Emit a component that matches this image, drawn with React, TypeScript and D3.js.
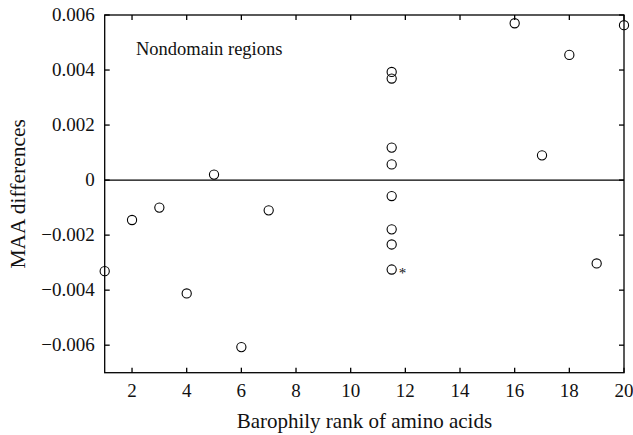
import React from "react";
import * as d3 from "d3";

const ranks = [1, 2, 3, 4, 5, 6, 7, 11.5, 11.5, 11.5, 11.5, 11.5, 11.5, 11.5, 11.5, 16, 17, 18, 19, 20];
const maaDiffs = [-0.00331, -0.00145, -0.001, -0.00412, 0.0002, -0.00607, -0.0011, 0.00393, 0.00369, 0.00118, 0.00057, -0.00058, -0.00179, -0.00234, -0.00325, 0.0057, 0.0009, 0.00455, -0.00303, 0.00563];
const xTicks = [2, 4, 6, 8, 10, 12, 14, 16, 18, 20];
const yTicks = [-0.006, -0.004, -0.002, 0, 0.002, 0.004, 0.006];
const annotation = "Nondomain regions";
const starPoint = { rank: 11.5, value: -0.00325 };

const W = 633, H = 435;
const margin = { left: 104.7, right: 9, top: 15, bottom: 62.3 };
const font = "'Liberation Serif', 'DejaVu Serif', serif";

export default function App() {
  const x = d3.scaleLinear().domain([1, 20]).range([margin.left, W - margin.right]);
  const y = d3.scaleLinear().domain([-0.007, 0.006]).range([H - margin.bottom, margin.top]);
  const [x0, x1] = x.range();
  const [y0, y1] = y.range();
  const fmt = d3.format(".3f");
  const label = (v: number) =>
    Math.abs(v) < 1e-12 ? "0" : (v < 0 ? "\u2212" : "") + fmt(Math.abs(v));
  const tl = 5;
  return (
    <svg width={W} height={H} style={{ position: "absolute", left: 0, top: 0, background: "#fff" }}>
      <g stroke="#000" strokeWidth={1.3} fill="none">
        <rect x={x0} y={y1} width={x1 - x0} height={y0 - y1} />
        <line x1={x0} x2={x1} y1={y(0)} y2={y(0)} />
        {xTicks.map((t) => (
          <g key={"xt" + t}>
            <line x1={x(t)} x2={x(t)} y1={y0} y2={y0 - tl} />
            <line x1={x(t)} x2={x(t)} y1={y1} y2={y1 + tl} />
          </g>
        ))}
        {yTicks.map((t) => (
          <g key={"yt" + t}>
            <line x1={x0} x2={x0 + tl} y1={y(t)} y2={y(t)} />
            <line x1={x1} x2={x1 - tl} y1={y(t)} y2={y(t)} />
          </g>
        ))}
      </g>
      <g fontFamily={font} fill="#111">
        {xTicks.map((t) => (
          <text key={"xl" + t} x={x(t)} y={y0 + 24} textAnchor="middle" fontSize={19}>{String(t)}</text>
        ))}
        {yTicks.map((t) => (
          <text key={"yl" + t} x={x0 - 10} y={y(t) + 6} textAnchor="end" fontSize={19}>{label(t)}</text>
        ))}
        <text x={(x0 + x1) / 2} y={428} textAnchor="middle" fontSize={21}>Barophily rank of amino acids</text>
        <text transform={`translate(25, ${(y0 + y1) / 2}) rotate(-90)`} textAnchor="middle" fontSize={21.5}>MAA differences</text>
        <text x={136} y={55} fontSize={18.5}>{annotation}</text>
        <text x={x(starPoint.rank) + 7} y={y(starPoint.value) + 8} fontSize={15}>*</text>
      </g>
      <g stroke="#000" strokeWidth={1.1} fill="none">
        {ranks.map((r, i) => (
          <circle key={"p" + i} cx={x(r)} cy={y(maaDiffs[i])} r={4.6} />
        ))}
      </g>
    </svg>
  );
}
